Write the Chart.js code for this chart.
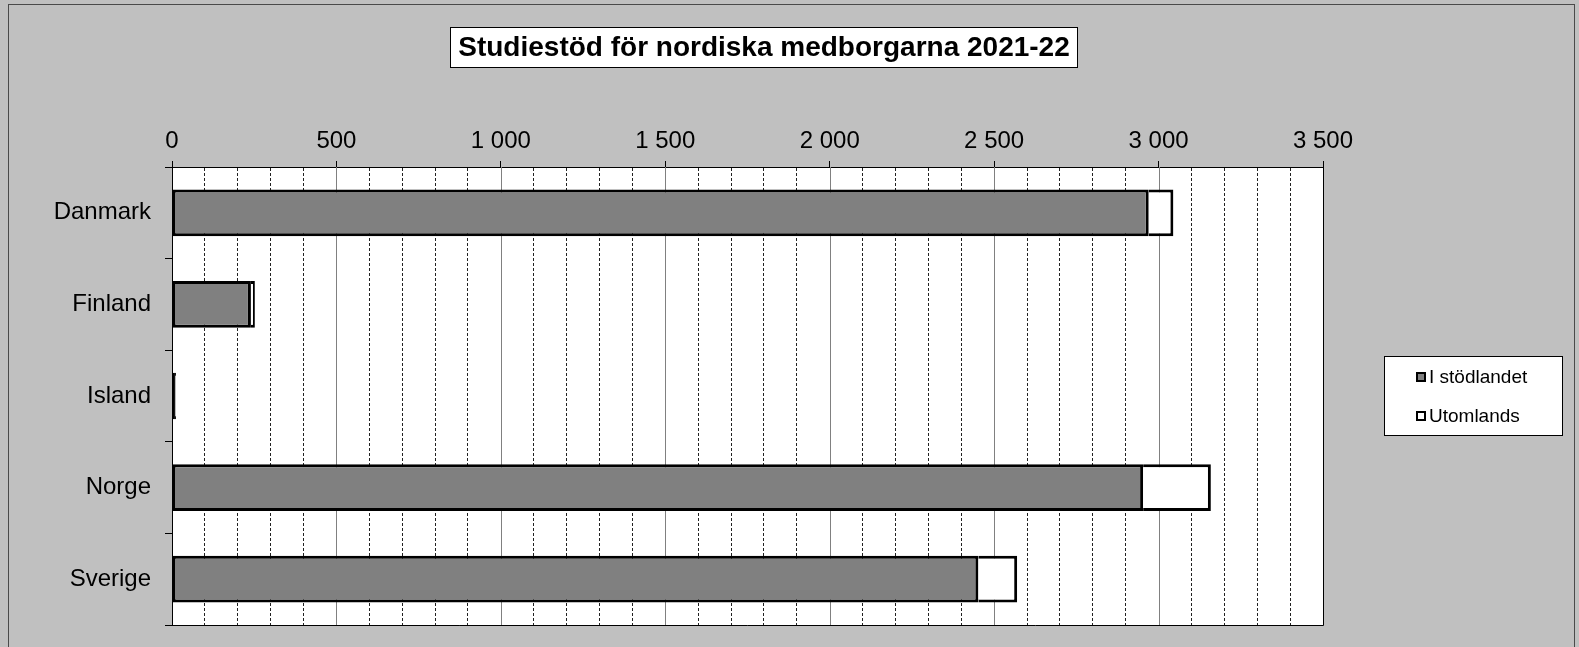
<!DOCTYPE html>
<html>
<head>
<meta charset="utf-8">
<script src="https://cdn.jsdelivr.net/npm/chart.js@4.4.1/dist/chart.umd.min.js"></script>
<style>
html,body{margin:0;padding:0;background:#c0c0c0;}
#wrap{width:1579px;height:647px;position:relative;}
</style>
</head>
<body>
<div id="wrap"><canvas id="c" width="1579" height="647"></canvas></div>
<script>
const titleText = 'Studiestöd för nordiska medborgarna 2021-22';
const categories = ['Danmark', 'Finland', 'Island', 'Norge', 'Sverige'];
const seriesNames = ['I stödlandet', 'Utomlands'];
const iStodlandet = [2970, 240, 9, 2953, 2452];
const utomlands = [75, 12, 3, 206, 118];
const tickLabels = ['0', '500', '1 000', '1 500', '2 000', '2 500', '3 000', '3 500'];
const FONT = "'Liberation Sans', Arial, sans-serif";

const framePlugin = {
  id: 'frame',
  beforeDraw(chart) {
    const ctx = chart.ctx;
    ctx.save();
    ctx.fillStyle = '#c0c0c0';
    ctx.fillRect(0, 0, chart.width, chart.height);
    ctx.strokeStyle = '#4a4a4a';
    ctx.lineWidth = 1;
    ctx.strokeRect(8.5, 4.5, chart.width - 13, chart.height + 10);
    const a = chart.chartArea;
    ctx.fillStyle = '#ffffff';
    ctx.fillRect(a.left, a.top, a.right - a.left, a.bottom - a.top);
    // title box
    ctx.fillStyle = '#ffffff';
    ctx.fillRect(450, 27, 627, 40);
    ctx.strokeStyle = '#000';
    ctx.strokeRect(450.5, 27.5, 627, 40);
    ctx.fillStyle = '#000';
    ctx.font = 'bold 28px ' + FONT;
    ctx.textAlign = 'center';
    ctx.textBaseline = 'middle';
    ctx.fillText(titleText, 764, 48);
    ctx.restore();
  },
  beforeDatasetsDraw(chart) {
    const ctx = chart.ctx;
    const x = chart.scales.x;
    const a = chart.chartArea;
    ctx.save();
    ctx.strokeStyle = '#808080';
    ctx.lineWidth = 1;
    for (let i = 1; i < tickLabels.length - 1; i++) {
      const px = Math.round(x.getPixelForValue(i * 500)) + 0.5;
      ctx.beginPath();
      ctx.moveTo(px, a.top);
      ctx.lineTo(px, a.bottom);
      ctx.stroke();
    }
    ctx.restore();
  },
  afterDraw(chart) {
    const ctx = chart.ctx;
    const a = chart.chartArea;
    ctx.save();
    ctx.strokeStyle = '#000';
    ctx.lineWidth = 1;
    ctx.beginPath();
    ctx.moveTo(Math.round(a.right) + 0.5, a.top);
    ctx.lineTo(Math.round(a.right) + 0.5, Math.round(a.bottom) + 0.5);
    ctx.lineTo(a.left, Math.round(a.bottom) + 0.5);
    ctx.stroke();
    // legend
    const lx = 1384, ly = 356, lw = 178, lh = 79;
    ctx.fillStyle = '#fff';
    ctx.fillRect(lx, ly, lw, lh);
    ctx.strokeStyle = '#000';
    ctx.strokeRect(lx + 0.5, ly + 0.5, lw, lh);
    const ds = chart.data.datasets;
    const ys = [377, 416];
    ds.forEach((d, i) => {
      ctx.fillStyle = '#000';
      ctx.fillRect(1416, ys[i] - 5, 10, 10);
      ctx.fillStyle = d.backgroundColor;
      ctx.fillRect(1418, ys[i] - 3, 6, 6);
      ctx.fillStyle = '#000';
      ctx.font = '19px ' + FONT;
      ctx.textAlign = 'left';
      ctx.textBaseline = 'middle';
      ctx.fillText(d.label, 1429, ys[i] + 1);
    });
    ctx.restore();
  }
};

new Chart(document.getElementById('c'), {
  type: 'bar',
  data: {
    labels: categories,
    datasets: [
      {
        label: seriesNames[0],
        data: iStodlandet,
        backgroundColor: '#808080',
        borderColor: '#000',
        borderWidth: 3,
        borderSkipped: false,
        barPercentage: 0.51,
        categoryPercentage: 1
      },
      {
        label: seriesNames[1],
        data: utomlands,
        backgroundColor: '#ffffff',
        borderColor: '#000',
        borderWidth: 3,
        borderSkipped: 'start',
        barPercentage: 0.51,
        categoryPercentage: 1
      }
    ]
  },
  options: {
    indexAxis: 'y',
    responsive: false,
    animation: false,
    layout: { padding: { left: 0, top: 0, right: 256, bottom: 22 } },
    plugins: {
      legend: { display: false },
      title: { display: false },
      tooltip: { enabled: false }
    },
    scales: {
      x: {
        position: 'top',
        stacked: true,
        min: 0,
        max: 3500,
        afterFit(s) { s.height = 167; s.paddingLeft = 0; s.paddingRight = 0; },
        ticks: {
          stepSize: 100,
          autoSkip: false,
          maxRotation: 0,
          minRotation: 0,
          padding: 5,
          color: '#000',
          font: { family: FONT, size: 24 },
          callback(v) { return v % 500 === 0 ? tickLabels[v / 500] : ''; }
        },
        grid: {
          display: true,
          drawOnChartArea: true,
          drawTicks: true,
          tickLength: 6,
          lineWidth: 1,
          color(ctx) {
            const v = ctx.tick ? ctx.tick.value : 0;
            return (v % 500 === 0) ? 'rgba(0,0,0,0)' : '#222';
          },
          tickColor(ctx) {
            const v = ctx.tick ? ctx.tick.value : 0;
            return (v % 500 === 0) ? '#000' : 'rgba(0,0,0,0)';
          }
        },
        border: { display: true, color: '#000', width: 1, dash: [3, 2] }
      },
      y: {
        stacked: true,
        afterFit(s) { s.width = 172; s.paddingTop = 0; s.paddingBottom = 0; },
        ticks: {
          padding: 14,
          color: '#000',
          font: { family: FONT, size: 24 }
        },
        grid: {
          display: true,
          offset: true,
          drawOnChartArea: false,
          drawTicks: true,
          tickLength: 7,
          color: '#000'
        },
        border: { display: true, color: '#000', width: 1 }
      }
    }
  },
  plugins: [framePlugin]
});
</script>
</body>
</html>
